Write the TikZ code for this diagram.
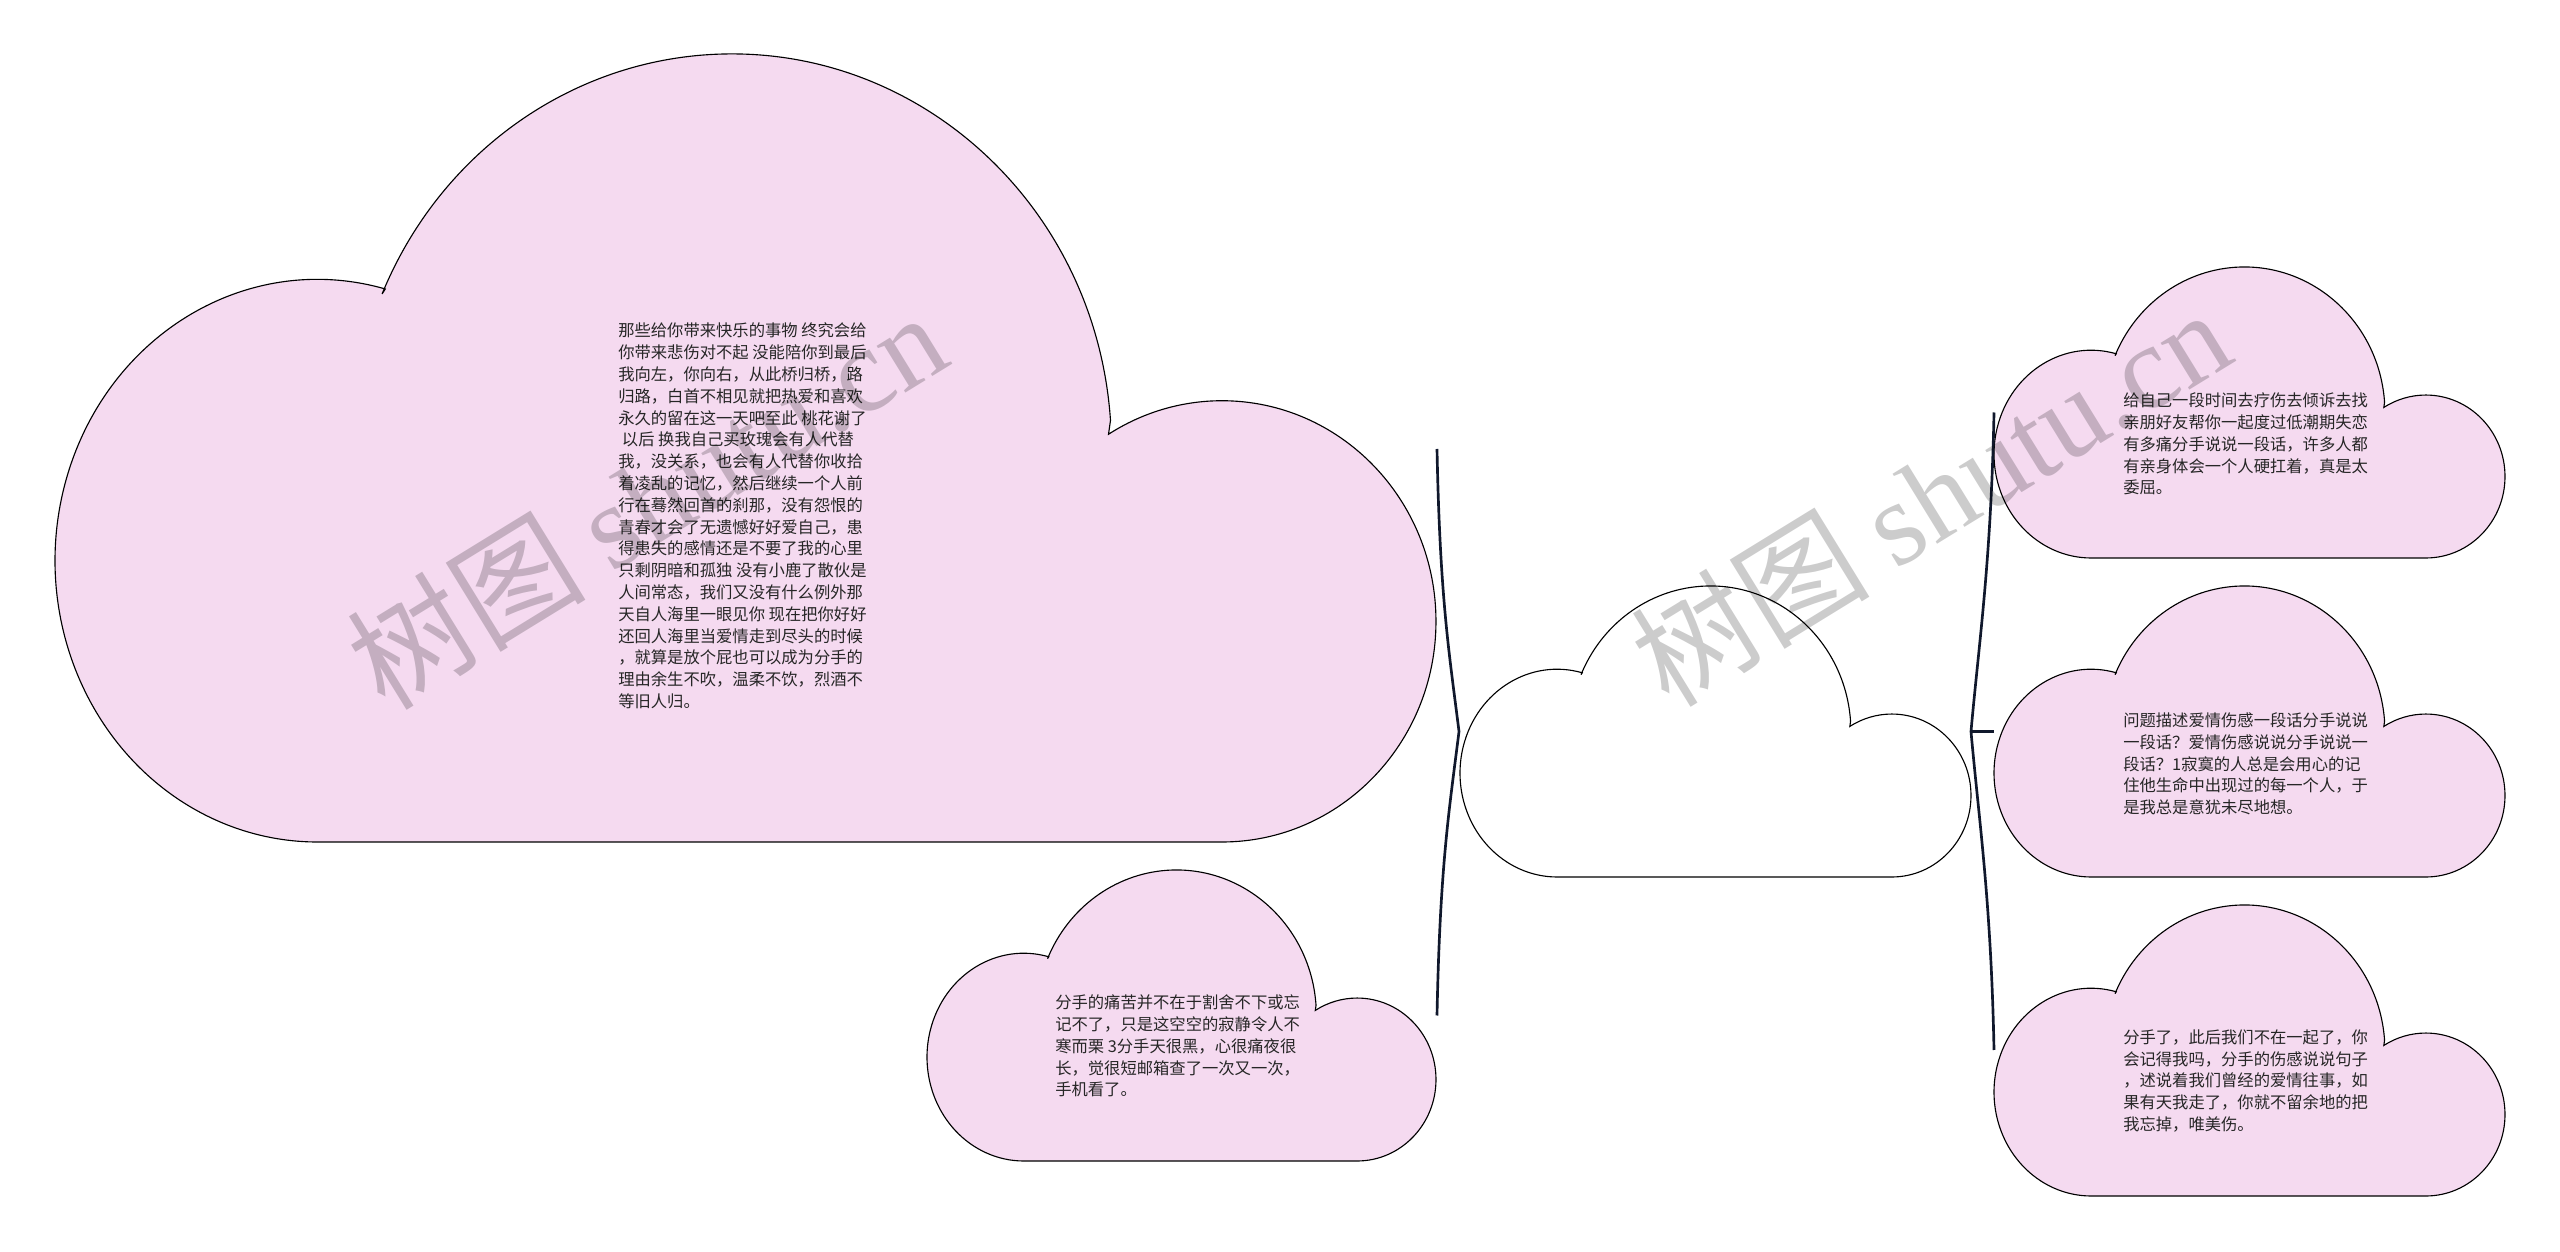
\documentclass[tikz,border=0pt]{standalone}
\usepackage{fontspec}
\newfontfamily\cjk{Noto Sans CJK SC}
\newfontfamily\wmlatin{Liberation Serif}
\definecolor{cloudpink}{RGB}{245,218,240}
\definecolor{bracenavy}{RGB}{16,24,44}
% cloud outline in a unit box: #2,#3 lower left corner, #4 width, #5 height
\newcommand{\cloudshape}[5][cloudpink]{%
  \begin{scope}[shift={(#2,#3)},xscale=#4,yscale=#5]
    \draw[fill=#1,line width=0.8pt] (0.19,0) -- (0.845,0)
      arc[start angle=-90,end angle=122,x radius=0.155,y radius=0.28]
      -- (0.7643,0.535)
      arc[start angle=4,end angle=157,x radius=0.275,y radius=0.5]
      -- (0.2392,0.7018)
      arc[start angle=75,end angle=270,x radius=0.19,y radius=0.357]
      -- cycle;
  \end{scope}}
\begin{document}
\begin{tikzpicture}[x=0.025cm,y=0.025cm,
    txt/.style={anchor=west,align=left,inner sep=0pt,text=black!85,
      font=\cjk\fontsize{11.6}{15.5}\selectfont},
    brace/.style={draw=bracenavy,line width=1.9pt},
    wmark/.style={rotate=31.6,text=black,text opacity=0.2,
      font=\cjk\fontsize{85}{90}\selectfont}]
  \useasboundingbox (0,0) rectangle (2560,1251);
  \cloudshape{55}{409}{1381}{788}
  \cloudshape[white]{1460}{374}{511}{291}
  \cloudshape{927}{90}{509}{291}
  \cloudshape{1994}{693}{511}{291}
  \cloudshape{1994}{374}{511}{291}
  \cloudshape{1994}{55}{511}{291}
  \node[txt] (farewell) at (618,735) {那些给你带来快乐的事物 终究会给\\
    你带来悲伤对不起 没能陪你到最后\\
    我向左，你向右，从此桥归桥，路\\
    归路，白首不相见就把热爱和喜欢\\
    永久的留在这一天吧至此 桃花谢了\\
    \ 以后 换我自己买玫瑰会有人代替\\
    我，没关系，也会有人代替你收拾\\
    着凌乱的记忆，然后继续一个人前\\
    行在蓦然回首的刹那，没有怨恨的\\
    青春才会了无遗憾好好爱自己，患\\
    得患失的感情还是不要了我的心里\\
    只剩阴暗和孤独 没有小鹿了散伙是\\
    人间常态，我们又没有什么例外那\\
    天自人海里一眼见你 现在把你好好\\
    还回人海里当爱情走到尽头的时候\\
    ，就算是放个屁也可以成为分手的\\
    理由余生不吹，温柔不饮，烈酒不\\
    等旧人归。};
  \node[txt] (pain) at (1055,205) {分手的痛苦并不在于割舍不下或忘\\
    记不了，只是这空空的寂静令人不\\
    寒而栗 3分手天很黑，心很痛夜很\\
    长，觉很短邮箱查了一次又一次，\\
    手机看了。};
  \node[txt] (heal) at (2123,807) {给自己一段时间去疗伤去倾诉去找\\
    亲朋好友帮你一起度过低潮期失恋\\
    有多痛分手说说一段话，许多人都\\
    有亲身体会一个人硬扛着，真是太\\
    委屈。};
  \node[txt] (question) at (2123,487) {问题描述爱情伤感一段话分手说说\\
    一段话？爱情伤感说说分手说说一\\
    段话？1寂寞的人总是会用心的记\\
    住他生命中出现过的每一个人，于\\
    是我总是意犹未尽地想。};
  \node[txt] (forget) at (2123,170) {分手了，此后我们不在一起了，你\\
    会记得我吗，分手的伤感说说句子\\
    ，述说着我们曾经的爱情往事，如\\
    果有天我走了，你就不留余地的把\\
    我忘掉，唯美伤。};
  \coordinate (rootw) at (1459,519.5);
  \coordinate (roote) at (1971,519.5);
  \coordinate (farewellend) at (1437,802);
  \coordinate (painend) at (1437,235.5);
  \coordinate (healend) at (1994,838.5);
  \coordinate (questionend) at (1994,519.5);
  \coordinate (forgetend) at (1994,201);
  \draw[brace] (farewellend) .. controls +(3,-150) and +(-10,80) .. (rootw)
    .. controls +(-10,-80) and +(3,150) .. (painend);
  \draw[brace] (healend) .. controls +(-3,-150) and +(8,90) .. (roote)
    .. controls +(8,-90) and +(-3,150) .. (forgetend);
  \draw[brace] (roote) -- (questionend);
  \node[wmark] (wmleft) at (646,752) {树图 {\wmlatin shutu.cn}};
  \node[wmark] (wmright) at (1930,755) {树图 {\wmlatin shutu.cn}};
\end{tikzpicture}
\end{document}
